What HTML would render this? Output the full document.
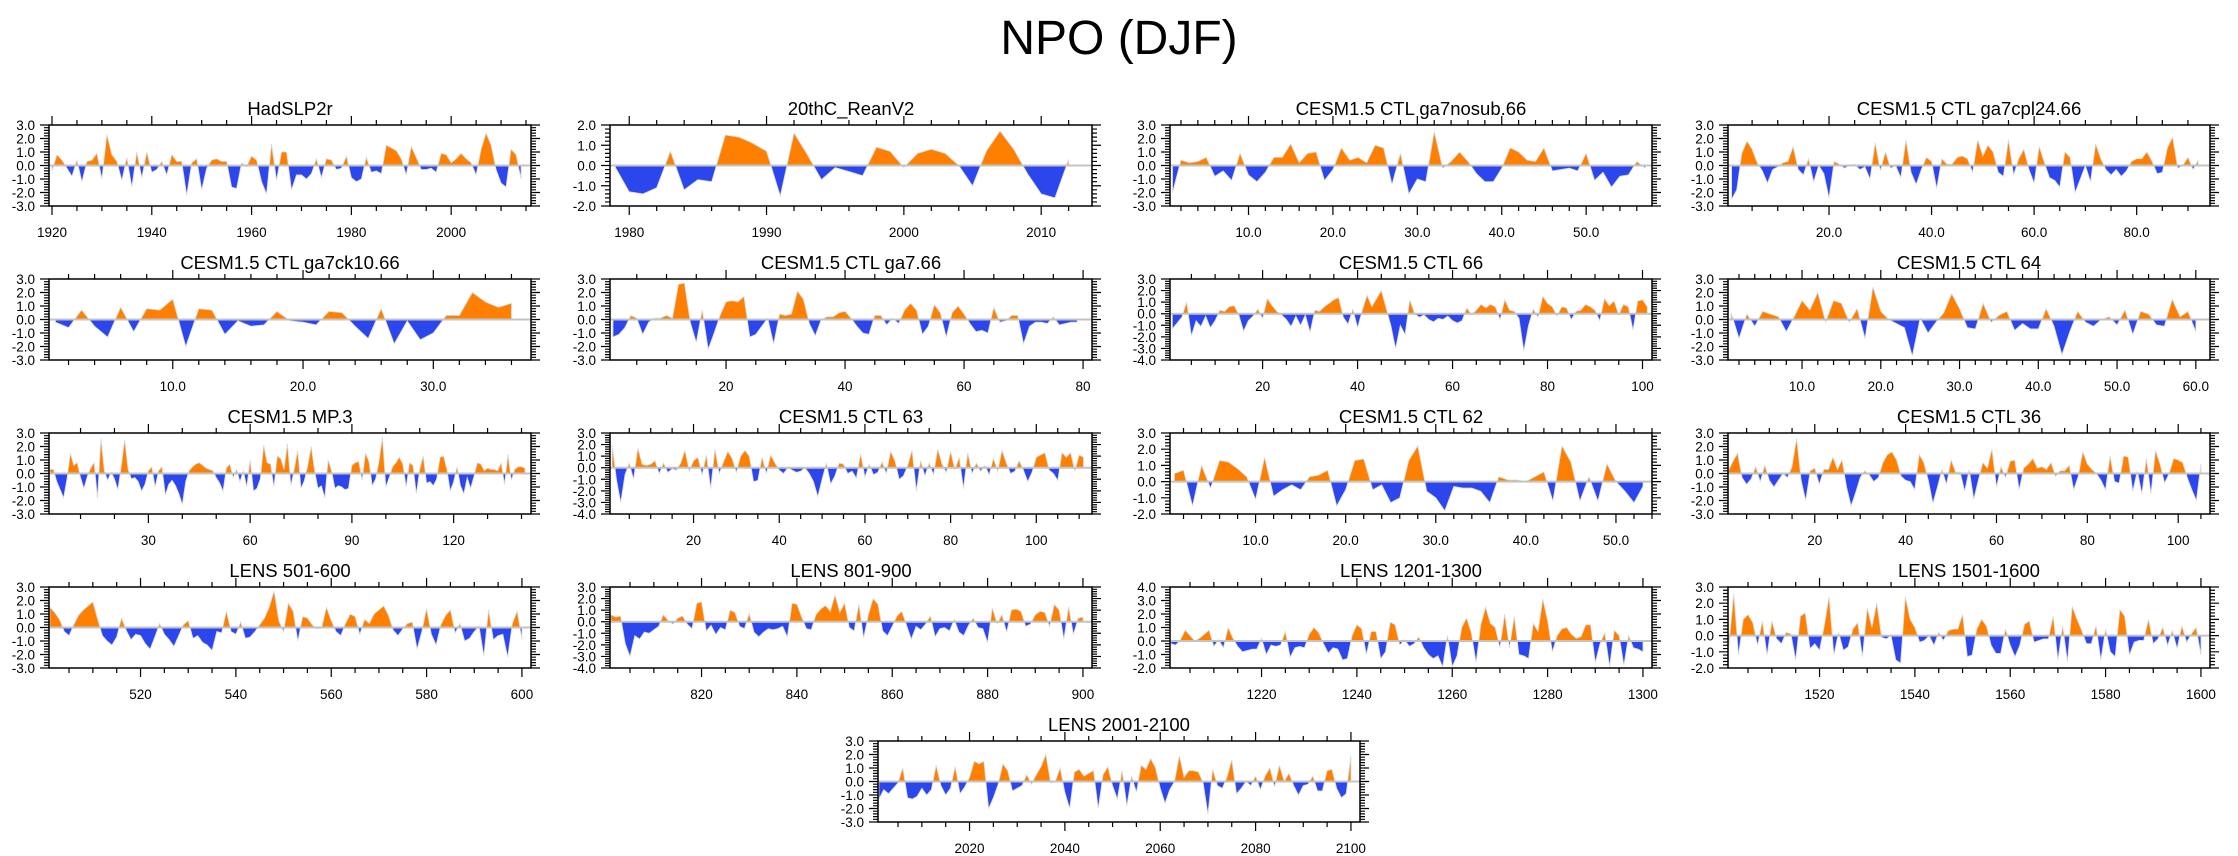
<!DOCTYPE html>
<html><head><meta charset="utf-8">
<style>
html,body{margin:0;padding:0;background:#fff;}
svg{display:block;font-family:"Liberation Sans",Arial,sans-serif;}
</style></head>
<body>
<svg id="chart" width="2238" height="856" viewBox="0 0 2238 856" xmlns="http://www.w3.org/2000/svg">
<rect width="2238" height="856" fill="#fff"/>
<text x="1119" y="54" font-size="48" text-anchor="middle" fill="#000">NPO (DJF)</text>
</svg>
<script>
const titles = ["HadSLP2r","20thC_ReanV2","CESM1.5 CTL ga7nosub.66","CESM1.5 CTL ga7cpl24.66","CESM1.5 CTL ga7ck10.66","CESM1.5 CTL ga7.66","CESM1.5 CTL 66","CESM1.5 CTL 64","CESM1.5 MP.3","CESM1.5 CTL 63","CESM1.5 CTL 62","CESM1.5 CTL 36","LENS 501-600","LENS 801-900","LENS 1201-1300","LENS 1501-1600","LENS 2001-2100"];
const firstX = [1920,1979,1,1,1,1,1,1,1,1,1,1,501,801,1201,1501,2001];
const xMins = [1919.4,1978.6,0.7,0.3,0.5,0.5,0.5,0.6,0.7,0.5,0.5,0.9,500.8,800.8,1200.8,1500.8,2000.8];
const xMaxs = [2016,2013.7,57.8,94.3,37.5,81.5,102,61.8,142.8,113,54,107,601.9,901.9,1301.9,1601.9,2101.9];
const xMajorStart = [1920,1980,10,20,10,20,20,10,30,20,10,20,520,820,1220,1520,2020];
const xMajorStep = [20,10,10,20,10,20,20,10,30,20,10,20,20,20,20,20,20];
const xMinorStep = [5,2,2,5,2,5,5,2,10,5,2,5,5,5,5,5,5];
const xDecimals = [0,0,1,1,1,0,0,1,0,0,1,0,0,0,0,0,0];
const yMins = [-3,-2,-3,-3,-3,-3,-4,-3,-3,-4,-2,-3,-3,-4,-2,-2,-3];
const yMaxs = [3,2,3,3,3,3,3,3,3,3,3,3,3,3,4,3,3];

const sHad = [-0.4,0.8,0.4,-0.2,-0.8,0.4,-1.2,0.3,0.4,0.9,-1.0,2.3,0.8,0.3,-1.1,0.6,-1.6,1.0,-0.9,1.0,-0.5,-0.3,0.3,-0.7,0.8,0.3,0.3,-2.2,0.2,0.5,-1.8,-0.2,0.4,0.5,0.3,0.3,-1.6,-1.7,0.2,-0.1,0.7,0.4,-1.2,-2.1,1.6,-1.1,1.0,1.0,-1.8,-0.7,-0.7,-1.0,-0.6,0.5,-0.9,0.5,0.4,-0.3,-0.2,0.7,-0.9,-1.2,-1.0,0.6,-0.5,-0.4,-0.6,1.5,1.3,1.1,0.5,-0.7,1.4,0.6,-0.3,-0.3,-0.2,-0.5,0.9,0.8,0.2,0.5,0.9,0.5,0.2,-0.7,1.2,2.4,1.5,-0.3,-1.3,-1.6,1.2,0.8,-1.0];
const s20c = [-0.1,-1.3,-1.4,-1.1,0.7,-1.2,-0.7,-0.8,1.5,1.4,1.1,0.7,-1.5,1.6,0.5,-0.7,-0.1,-0.3,-0.5,0.9,0.7,-0.1,0.6,0.8,0.6,0.0,-1.0,0.7,1.7,0.8,-0.4,-1.4,-1.6,0.3];
const sNosub = [-2.0,0.4,0.2,0.3,0.6,-0.8,-0.4,-1.1,0.9,-0.7,-1.2,-0.5,0.6,0.6,1.6,0.2,0.9,1.0,-1.1,-0.3,1.3,0.4,0.6,0.2,1.5,1.3,-1.4,0.9,-2.1,-1.0,-1.2,2.5,-0.2,0.3,1.0,0.3,-0.6,-1.2,-1.2,-0.2,1.3,1.0,0.4,0.3,1.3,-0.4,-0.3,-0.2,-0.4,0.9,-1.1,-0.5,-1.6,-0.8,-0.7,0.3,-0.2];
const sCpl24 = [-2.5,-1.8,0.9,1.8,1.2,0.2,-0.4,-1.3,-0.3,-0.1,0.2,0.3,1.4,-0.3,-0.7,0.5,-1.2,0.0,-0.6,-2.4,0.3,0.1,-0.2,0.0,0.1,-0.3,-0.1,-1.0,1.7,-0.4,1.0,-0.2,0.0,-0.9,1.9,-0.5,-1.4,-0.3,0.6,0.3,-1.7,0.5,0.1,0.1,0.6,0.7,0.5,-0.5,1.9,0.7,1.5,1.0,-0.5,-0.8,1.9,-0.7,0.5,1.2,-0.3,-1.3,1.4,0.2,-0.9,-1.1,-1.6,1.0,0.6,-2.0,-1.0,0.0,-1.2,1.6,0.5,-0.3,-0.7,-0.3,-0.8,-0.4,0.3,0.5,0.5,1.0,0.3,-0.6,-0.5,1.3,2.1,-0.2,0.0,0.6,-0.3,0.4];
const sCk10 = [-0.2,-0.6,0.7,-0.5,-1.3,0.9,-0.9,0.8,0.7,1.5,-2.0,0.8,0.7,-1.1,-0.1,-0.5,-0.4,0.6,-0.1,-0.2,-0.4,0.6,0.5,-0.5,-1.4,0.8,-1.8,-0.1,-1.5,-1.0,0.3,0.3,2.0,1.3,0.9,1.2];
const sGa7 = [-1.3,-1.1,-0.6,0.3,0.1,-1.1,-0.2,0.1,0.1,0.3,0.1,2.6,2.7,-0.2,-1.7,0.7,-2.2,-1.0,0.3,1.3,1.4,1.3,1.7,-1.3,-1.1,-0.5,0.1,-1.8,0.4,0.3,0.4,2.1,1.5,-0.3,-1.2,0.0,0.2,0.2,0.5,0.6,0.1,-0.5,-1.0,-1.1,0.3,0.3,-0.4,0.1,-0.3,0.7,1.2,0.7,-1.1,-0.5,1.1,0.5,-1.3,0.5,1.0,0.4,-0.3,-0.9,-0.8,-1.0,0.9,-0.2,-0.1,0.3,0.3,-1.8,-0.5,-0.2,-0.2,-0.3,0.2,-0.4,-0.3,-0.2,-0.2];
const sCtl66 = [-1.3,-0.8,-0.3,1.0,-1.9,-0.6,-1.1,-0.2,-1.2,-0.6,0.3,0.2,0.6,0.7,-0.1,-1.5,-0.6,-0.2,0.4,-0.4,1.3,0.7,0.2,-0.1,-0.5,-1.1,-0.2,-1.0,-0.1,-1.6,0.3,0.2,0.6,0.9,1.2,1.4,-0.3,-0.9,0.4,-1.2,0.3,1.6,0.6,1.3,2.0,0.5,-1.0,-3.0,-1.0,-1.8,1.2,0.0,-0.3,-0.1,-0.5,-0.7,-0.4,-0.5,-0.2,-0.6,-0.8,-0.6,0.5,-0.1,0.3,0.8,0.5,0.8,0.6,-0.5,1.2,0.3,0.2,-0.4,-3.2,-1.0,0.4,-0.3,1.5,0.9,0.6,-0.2,0.6,0.5,-0.5,0.2,0.3,0.8,0.6,0.3,-0.6,1.3,0.7,1.1,-0.1,0.8,0.6,-1.4,1.1,1.2,0.6];
const sCtl64 = [0.5,-1.4,0.4,-0.5,0.6,0.4,0.2,-0.9,0.2,1.4,0.7,2.0,-0.2,1.4,1.2,-0.2,0.8,-1.4,2.4,0.6,0.0,-0.3,-0.6,-2.7,0.1,-1.0,-0.2,0.5,1.9,0.8,-0.6,-0.7,1.2,-0.2,0.3,0.6,-0.8,-0.3,-0.7,-0.7,0.8,-0.5,-2.6,-0.9,0.6,-0.2,-0.5,0.0,0.2,-0.4,0.7,-1.1,0.6,0.4,-0.4,-0.5,1.5,0.2,0.6,-0.9];
const sMp3 = [0.3,0.3,-0.6,-1.2,-1.8,-0.4,1.5,0.6,0.8,-0.3,-1.1,-0.2,0.4,0.8,-1.8,2.6,0.2,-0.5,0.1,-0.4,-1.2,0.5,2.5,0.3,-0.4,-0.3,-0.6,-1.3,-0.8,0.2,0.5,-1.0,0.2,0.5,-1.6,-0.8,-0.5,-0.9,-1.5,-2.3,-0.6,0.2,0.5,0.7,0.8,0.6,0.4,0.3,0.2,-0.3,-0.7,-1.3,0.4,0.7,-0.3,0.3,-0.6,0.2,-1.0,1.0,-1.3,-1.1,-0.4,2.1,0.8,0.7,-1.0,1.3,1.1,0.3,2.2,-0.9,0.3,1.7,-1.1,-0.5,0.6,2.0,0.2,-1.1,-0.9,-1.8,1.0,0.2,-1.1,-0.9,-1.0,-1.2,-1.1,0.6,0.8,0.9,-0.5,1.5,0.9,-0.9,-0.4,0.9,2.7,-1.0,-0.3,0.5,0.8,1.2,0.7,-1.0,0.8,0.6,-1.5,0.3,1.3,-0.7,-0.6,-0.9,-0.4,1.2,1.3,0.3,-1.3,-0.6,0.5,-0.9,-1.5,-0.3,-1.1,-0.2,0.8,0.7,0.2,0.4,0.3,0.3,0.2,0.8,-0.8,1.4,-0.5,0.3,0.5,0.5,0.4];
const sCtl63 = [2.0,-1.0,-3.0,-0.6,0.4,-1.0,1.7,0.3,0.2,0.3,0.6,-0.5,0.4,-0.4,-0.1,-0.2,0.4,1.5,-0.3,0.6,0.9,-0.6,1.1,-1.8,1.6,-0.5,0.5,1.4,0.8,-0.4,1.0,1.5,1.0,-1.2,-1.1,0.9,-0.5,1.1,0.4,-0.2,-0.5,0.0,-0.2,-0.4,-0.3,0.0,-0.5,-1.2,-2.5,-1.0,0.4,-1.4,-0.7,0.4,0.3,-0.5,-0.3,-0.9,1.2,-0.8,0.3,-0.6,-0.4,0.5,-0.5,1.4,0.6,-1.0,-0.7,0.2,1.5,-2.0,0.6,-0.7,0.4,-0.6,1.6,0.3,-0.4,1.4,-0.2,0.9,-1.8,1.3,-0.5,0.4,-0.3,0.2,-0.6,0.8,-0.3,1.5,0.4,-0.5,-0.3,0.6,-0.2,-1.2,-0.4,0.9,1.1,1.3,-0.2,-0.5,-1.1,1.3,0.9,1.3,-0.3,1.1,0.9];
const sCtl62 = [0.5,0.7,-1.5,1.0,-0.4,1.3,1.2,0.8,0.3,-1.1,1.5,-0.9,-0.5,-0.2,-0.5,0.3,0.4,0.7,-1.5,-0.5,1.3,1.4,-0.5,-0.2,-1.3,-1.0,1.3,2.2,-0.6,-1.0,-1.8,-0.3,-0.4,-0.4,-0.6,-1.3,0.3,0.1,0.1,0.0,0.3,0.6,-1.2,2.2,1.2,-1.2,0.3,-1.2,1.1,0.0,-0.6,-1.3,-0.3];
const sCtl36 = [0.2,0.9,1.5,-0.3,-0.8,-0.4,0.5,-0.6,0.6,-0.5,-1.0,-0.5,0.0,-0.3,0.5,2.6,-0.5,-2.0,0.2,0.4,-0.8,0.3,0.3,1.2,0.3,1.0,-1.0,-2.4,-1.4,-0.3,0.2,-0.1,-0.6,-0.3,0.8,1.4,1.6,1.0,-0.2,-0.5,-0.6,-1.2,1.4,0.8,-0.5,-2.2,-1.0,0.3,-0.8,1.0,0.1,0.1,-1.3,0.3,-1.9,-0.5,0.8,0.4,1.8,-1.0,0.5,-0.3,0.9,1.0,-1.2,0.4,0.7,1.1,0.4,0.5,0.3,0.8,-0.2,0.2,0.2,0.6,-1.2,-0.2,1.6,0.7,0.3,0.0,-0.5,-1.2,1.3,-0.6,-0.7,1.3,1.2,-1.3,0.2,-1.5,1.1,-1.5,1.7,0.7,-0.7,0.0,1.1,1.0,0.8,-0.3,-1.2,-2.0,0.7];
const sL501 = [1.5,1.1,0.6,-0.3,-0.6,0.2,0.9,1.3,1.6,1.9,0.6,-0.6,-1.0,-1.3,-0.7,0.7,-0.2,-0.9,-0.5,-0.6,-1.2,-1.6,-0.7,0.3,-0.5,-0.9,-1.4,-0.6,0.2,0.5,-0.8,-0.6,-1.1,-1.3,-1.7,-0.3,-0.4,1.2,-0.3,-0.5,0.4,-0.8,-0.7,-0.3,0.2,0.7,1.5,2.7,0.5,-0.3,1.8,1.2,-1.0,0.8,0.7,0.2,-0.1,0.0,1.5,0.5,-0.3,-0.6,0.3,1.0,0.8,-0.5,0.6,0.3,1.0,1.3,1.6,0.9,-0.2,-0.6,-0.1,0.3,0.4,-1.6,-0.3,1.4,-0.5,-1.3,0.2,0.9,1.3,-0.4,0.3,-1.0,-0.8,-0.3,0.1,-2.1,1.3,-0.9,-0.6,-0.5,-2.2,0.3,1.2,-0.9];
const sL801 = [0.6,0.4,0.5,-1.9,-3.0,-1.2,-1.5,-0.9,-1.0,-0.7,-0.4,0.6,0.1,-0.2,0.3,0.5,-0.2,-0.6,1.6,1.7,-0.8,-0.3,-1.1,-0.5,-0.7,1.0,0.8,-0.4,-0.6,0.7,-0.9,-1.3,-0.9,-0.6,-0.7,-0.6,-0.4,-1.3,1.6,1.5,0.4,-0.6,-0.7,0.6,1.1,1.4,0.9,2.3,0.8,1.6,-0.5,-0.8,1.5,-1.4,0.6,2.0,1.5,-0.8,-1.2,-0.4,0.5,0.9,-0.3,-1.5,-0.4,-0.7,-0.2,0.5,-1.3,-0.6,-0.5,-0.8,0.2,-0.9,-1.2,-0.3,0.3,-0.5,-0.6,-1.8,1.2,-0.2,0.6,-0.9,1.0,1.1,0.9,-0.4,-0.2,0.6,0.9,0.8,-0.4,1.5,1.0,-1.5,1.3,-1.1,0.3,0.4];
const sL1201 = [-0.2,-0.3,0.1,0.8,0.4,0.0,0.2,0.5,0.8,-0.4,0.1,-0.5,1.0,0.2,-0.4,-0.8,-0.7,-0.6,-0.6,0.2,-1.0,-0.3,-0.4,-0.3,0.7,-1.2,-0.5,-0.4,-0.5,0.5,1.0,0.6,-0.2,-0.9,-0.5,-0.6,-1.4,-1.3,0.4,1.2,0.9,-1.0,0.7,0.7,-1.3,-0.8,1.4,1.2,-0.3,0.1,-0.4,-0.2,0.3,-0.5,-1.0,-1.3,-1.1,-1.9,0.4,-1.9,-1.1,1.0,1.7,0.6,-1.6,1.2,2.5,1.3,1.0,-0.5,2.0,-0.5,1.8,-1.0,-1.1,-1.3,1.3,0.7,3.1,1.5,-0.8,0.4,0.9,1.0,0.5,0.2,0.3,1.2,1.2,-1.6,-0.2,0.6,-1.9,0.8,0.4,-1.8,0.4,-0.5,-0.6,-0.8];
const sL1501 = [-0.6,2.6,-1.2,1.0,1.3,0.8,-0.6,0.9,-1.2,0.9,-0.2,-0.5,0.2,0.1,-1.5,1.2,1.4,-0.8,-0.5,-0.9,0.6,2.4,-1.2,0.2,-0.9,-0.7,0.4,0.8,-1.3,1.7,0.5,2.0,-0.1,-0.2,0.0,-1.5,-1.7,2.4,1.0,0.5,-0.4,-0.3,0.0,-0.6,0.2,-0.3,0.3,0.4,0.4,1.3,-1.3,-1.2,0.4,1.0,0.6,-0.6,-1.1,-1.1,0.4,-0.6,-1.3,-0.6,0.7,0.9,-0.4,-0.3,-0.2,-0.2,1.2,-1.5,0.6,-1.6,1.8,1.0,0.3,-0.5,-0.5,0.6,-1.5,0.4,-1.0,-1.3,1.6,1.2,-1.2,-0.4,-0.3,-0.3,1.0,-0.5,-0.2,0.5,-0.6,0.3,-0.8,0.6,-0.4,0.1,0.5,-1.2];
const sL2001 = [-1.3,-0.6,-0.9,-0.5,-0.1,1.0,-1.2,-1.3,-1.1,-0.5,-1.0,-0.6,1.2,-0.3,-1.0,-0.5,1.1,-0.9,-0.4,0.3,1.5,1.3,1.5,-2.0,-1.2,-0.2,1.3,0.8,-0.7,-0.5,-0.3,0.5,-0.2,0.5,1.1,2.0,-0.1,0.0,1.0,-0.8,-2.0,0.7,0.9,0.4,0.6,0.8,-2.0,0.5,1.1,-0.3,-1.3,0.8,-1.8,0.4,-0.8,1.2,0.9,1.7,1.0,-0.5,-1.6,-0.6,0.0,1.9,0.3,0.8,0.8,0.7,-0.1,-2.4,0.9,-0.3,-0.5,0.3,1.6,-0.9,-0.5,0.0,-0.3,0.4,-0.6,0.4,1.0,-0.4,1.2,0.0,0.6,-0.3,-1.0,-0.3,-0.2,0.4,-0.7,-0.7,0.8,0.9,-0.5,-1.2,-0.9,1.9];
const seriesValues = [sHad,s20c,sNosub,sCpl24,sCk10,sGa7,sCtl66,sCtl64,sMp3,sCtl63,sCtl62,sCtl36,sL501,sL801,sL1201,sL1501,sL2001];

const NS = "http://www.w3.org/2000/svg";
const svg = document.getElementById("chart");
const W = 482, H = 81;
const colLeft = [49, 610, 1170, 1728];
const rowTop = [125, 279, 433, 587, 741];
function mk(tag, attrs, parent) {
  const e = document.createElementNS(NS, tag);
  for (const k in attrs) e.setAttribute(k, attrs[k]);
  (parent || svg).appendChild(e);
  return e;
}
function slug(t){return t.toLowerCase().replace(/[^a-z0-9]+/g,'-').replace(/^-|-$/g,'');}

for (let p = 0; p < titles.length; p++) {
  const L = p < 16 ? colLeft[p % 4] : 878;
  const T = p < 16 ? rowTop[Math.floor(p / 4)] : rowTop[4];
  const R = L + W, B = T + H;
  const x0 = xMins[p], x1 = xMaxs[p], y0 = yMins[p], y1 = yMaxs[p];
  const sx = v => L + (v - x0) / (x1 - x0) * W;
  const sy = v => B - (v - y0) / (y1 - y0) * H;
  const name = slug(titles[p]);
  const g = mk("g", {});
  
  

  const tt = mk("text", {x: (L + R) / 2, y: T - 10, "font-size": 18.5, "text-anchor": "middle", fill: "#000"}, g);
  tt.textContent = titles[p];
  
  

  const vals = seriesValues[p];
  const zy = sy(0);
  let d = "M" + sx(firstX[p]).toFixed(2) + "," + zy.toFixed(2);
  for (let i = 0; i < vals.length; i++) d += " L" + sx(firstX[p] + i).toFixed(2) + "," + sy(vals[i]).toFixed(2);
  d += " L" + sx(firstX[p] + vals.length - 1).toFixed(2) + "," + zy.toFixed(2) + " Z";
  const cpA = mk("clipPath", {id: "ca" + p}, g); mk("rect", {x: L, y: T, width: W, height: zy - T}, cpA);
  const cpB = mk("clipPath", {id: "cb" + p}, g); mk("rect", {x: L, y: zy, width: W, height: B - zy}, cpB);
  const pos = mk("path", {d: d, fill: "#ff8000", stroke: "#d8d8d8", "stroke-width": 0.8, "clip-path": "url(#ca" + p + ")"}, g);
  
  
  const neg = mk("path", {d: d, fill: "#2b46ec", stroke: "#d8d8d8", "stroke-width": 0.8, "clip-path": "url(#cb" + p + ")"}, g);
  
  
  const zl = mk("line", {x1: L, x2: R, y1: zy, y2: zy, stroke: "#c4c4c4", "stroke-width": 2}, g);
  
  

  const fr = mk("rect", {x: L, y: T, width: W, height: H, fill: "none", stroke: "#000", "stroke-width": 1.5}, g);
  
  

  let td = "";
  for (let k = Math.round(y0 * 5); k <= Math.round(y1 * 5); k++) {
    const y = sy(k / 5), major = k % 5 === 0, len = major ? 9 : 5;
    td += `M${L - len},${y}H${L}M${R},${y}H${R + len}`;
    if (major) {
      const lb = mk("text", {x: L - 14, y: y + 5, "font-size": 13.5, "text-anchor": "end", fill: "#000"}, g);
      lb.textContent = (k / 5).toFixed(1);
      
      
    }
  }
  const ms = xMinorStep[p];
  for (let v = Math.ceil(x0 / ms) * ms; v <= x1; v += ms) {
    const x = sx(v);
    const major = Math.abs(((v - xMajorStart[p]) / xMajorStep[p]) - Math.round((v - xMajorStart[p]) / xMajorStep[p])) < 1e-6 && v >= xMajorStart[p];
    const len = major ? 9 : 5;
    td += `M${x},${T - len}V${T}M${x},${B}V${B + len}`;
    if (major) {
      const lb = mk("text", {x: x, y: B + 31, "font-size": 13.5, "text-anchor": "middle", fill: "#000"}, g);
      lb.textContent = v.toFixed(xDecimals[p]);
      
      
    }
  }
  const tk = mk("path", {d: td, stroke: "#000", "stroke-width": 1.2, fill: "none"}, g);
  
  
}
</script>
</body></html>
